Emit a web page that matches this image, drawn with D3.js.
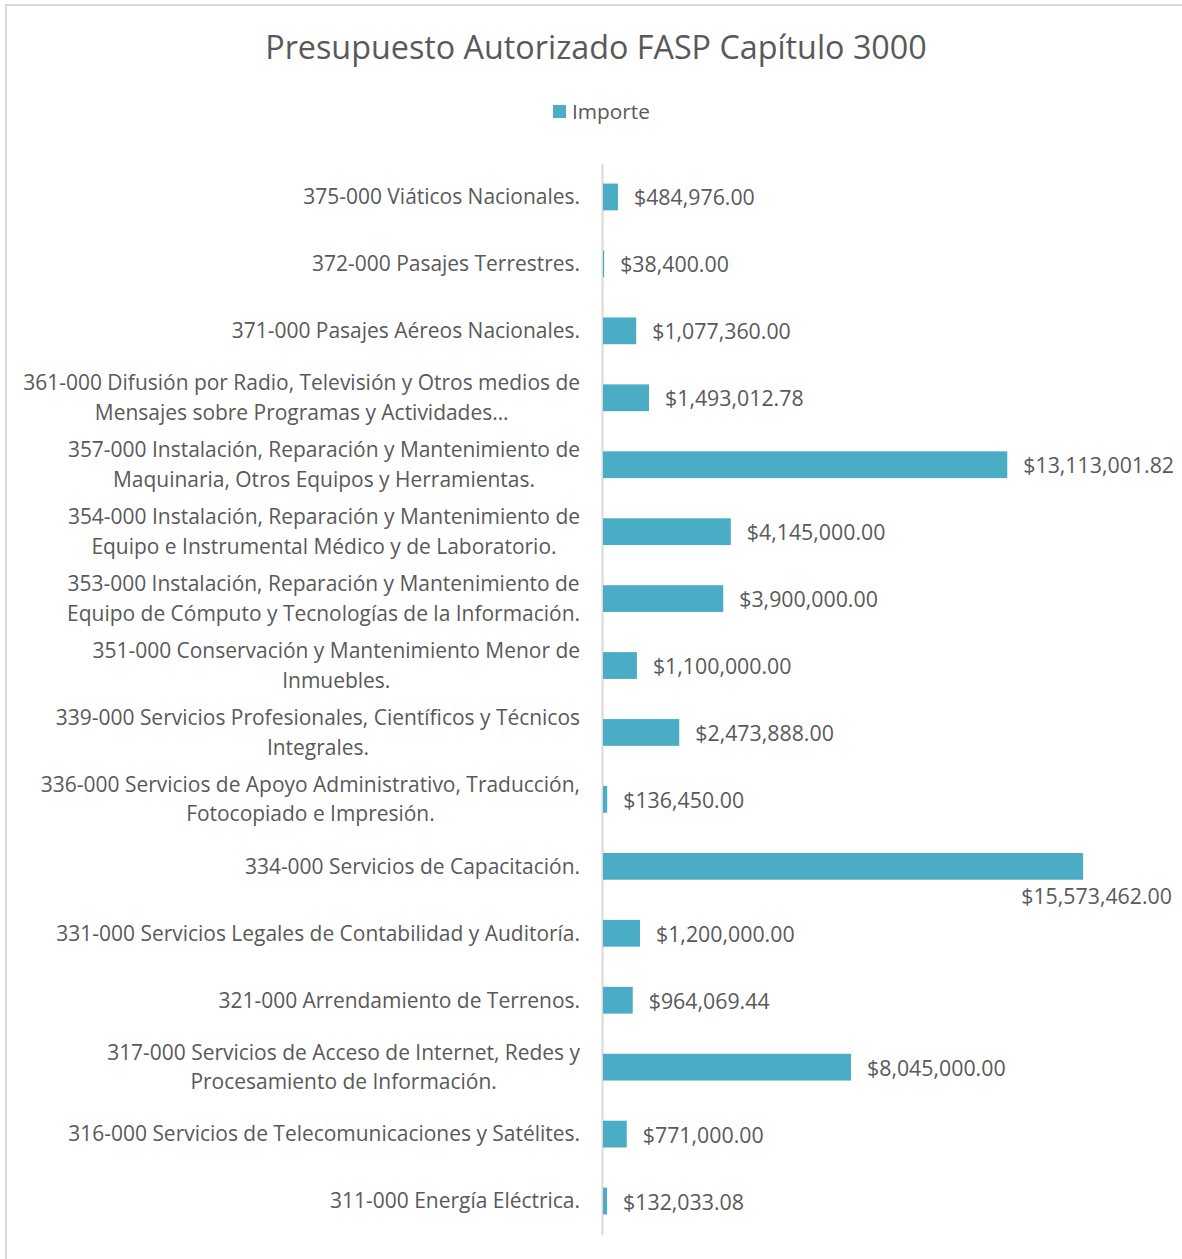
<!doctype html>
<html>
<head>
<meta charset="utf-8">
<title>Presupuesto Autorizado FASP Capítulo 3000</title>
<script src="https://cdn.jsdelivr.net/npm/d3@7"></script>
<style>
    html, body {
        margin: 0px;
        padding: 0px;
        background: #ffffff;
    }
    svg { display: block; }
</style>
</head>
<body>
<svg class="svg"></svg>
<script>
    var chartTitle = 'Presupuesto Autorizado FASP Capítulo 3000';
    var seriesName = 'Importe';

    // category labels, top to bottom, split into the lines shown in the chart
    var categories = [
        ['375-000 Viáticos Nacionales.'],
        ['372-000 Pasajes Terrestres.'],
        ['371-000 Pasajes Aéreos Nacionales.'],
        ['361-000 Difusión por Radio, Televisión y Otros medios de', 'Mensajes sobre Programas y Actividades…'],
        ['357-000 Instalación, Reparación y Mantenimiento de', 'Maquinaria, Otros Equipos y Herramientas.'],
        ['354-000 Instalación, Reparación y Mantenimiento de', 'Equipo e Instrumental Médico y de Laboratorio.'],
        ['353-000 Instalación, Reparación y Mantenimiento de', 'Equipo de Cómputo y Tecnologías de la Información.'],
        ['351-000 Conservación y Mantenimiento Menor de', 'Inmuebles.'],
        ['339-000 Servicios Profesionales, Científicos y Técnicos', 'Integrales.'],
        ['336-000 Servicios de Apoyo Administrativo, Traducción,', 'Fotocopiado e Impresión.'],
        ['334-000 Servicios de Capacitación.'],
        ['331-000 Servicios Legales de Contabilidad y Auditoría.'],
        ['321-000 Arrendamiento de Terrenos.'],
        ['317-000 Servicios de Acceso de Internet, Redes y', 'Procesamiento de Información.'],
        ['316-000 Servicios de Telecomunicaciones y Satélites.'],
        ['311-000 Energía Eléctrica.']
    ];

    var importe = [
        484976.00, 38400.00, 1077360.00, 1493012.78, 13113001.82, 4145000.00,
        3900000.00, 1100000.00, 2473888.00, 136450.00, 15573462.00, 1200000.00,
        964069.44, 8045000.00, 771000.00, 132033.08
    ];

    var xMax = 18000000;

    var width = 1182, height = 1259;
    var font = '"Open Sans", "DejaVu Sans", sans-serif';
    var textColor = '#595959', barColor = '#4BACC6', lineColor = '#d9d9d9';

    var svg = d3.select('svg').attr('width', width).attr('height', height);

    // pick a font size so that a sample string takes the given width
    function fitSize(sample, target) {
        var t = svg.append('text').attr('font-family', font).attr('font-size', 20).text(sample);
        var w = t.node().getComputedTextLength();
        t.remove();
        return 20 * target / w;
    }

    var titleSize = fitSize(chartTitle, 662);
    var labelSize = fitSize('361-000 Difusión por Radio, Televisión y Otros medios de', 557);
    var valueSize = fitSize('$484,976.00', 121);
    var legendSize = fitSize(seriesName, 78);

    // chart border
    svg.append('rect')
        .attr('x', 6).attr('y', 5)
        .attr('width', width + 20).attr('height', height + 20)
        .attr('fill', 'none')
        .attr('stroke', lineColor)
        .attr('stroke-width', 2);

    svg.append('text')
        .attr('x', 596).attr('y', 48)
        .attr('dy', '0.35em')
        .attr('text-anchor', 'middle')
        .attr('font-family', font)
        .attr('font-size', titleSize)
        .attr('fill', textColor)
        .text(chartTitle);

    var legend = svg.append('g');
    legend.append('rect')
        .attr('x', 553).attr('y', 105)
        .attr('width', 13).attr('height', 13)
        .attr('fill', barColor);
    legend.append('text')
        .attr('x', 572).attr('y', 112)
        .attr('dy', '0.35em')
        .attr('font-family', font)
        .attr('font-size', legendSize)
        .attr('fill', textColor)
        .text(seriesName);

    var keys = categories.map(function(c) { return c.join(' '); });

    var x = d3.scaleLinear().domain([0, xMax]).range([603, 603 + 18 * 30.83]);
    var y = d3.scaleBand().domain(keys).range([163.5, 1234.5])
        .paddingInner(0.6).paddingOuter(0.3);

    var fmt = d3.format('$,.2f');

    // category axis (drawn first so small bars stay visible)
    var yAxis = d3.axisLeft(y).tickSize(0).tickPadding(0);
    var axisG = svg.append('g')
        .attr('transform', 'translate(' + (x(0) - 1) + ',0)')
        .call(yAxis);
    axisG.select('.domain')
        .attr('stroke', lineColor)
        .attr('stroke-width', 2);

    var lineGap = 29.5;
    axisG.selectAll('.tick text').each(function(k) {
        var lines = categories[keys.indexOf(k)];
        var t = d3.select(this)
            .text(null)
            .attr('font-family', font)
            .attr('font-size', labelSize)
            .attr('fill', textColor)
            .attr('text-anchor', 'middle')
            .attr('dy', null);
        var spans = lines.map(function(line, j) {
            return t.append('tspan')
                .attr('y', (j - (lines.length - 1) / 2) * lineGap)
                .attr('dy', '0.35em')
                .text(line);
        });
        var maxW = d3.max(spans, function(s) { return s.node().getComputedTextLength(); });
        spans.forEach(function(s) { s.attr('x', -22 - maxW / 2); });
    });

    // bars
    svg.append('g').selectAll('rect')
        .data(importe)
        .enter().append('rect')
        .attr('x', x(0))
        .attr('y', function(d, i) { return y(keys[i]); })
        .attr('width', function(d) { return x(d) - x(0); })
        .attr('height', y.bandwidth())
        .attr('fill', barColor);

    // value labels
    var labelRight = 1180;
    svg.append('g').selectAll('text')
        .data(importe)
        .enter().append('text')
        .attr('font-family', font)
        .attr('font-size', valueSize)
        .attr('fill', textColor)
        .attr('dy', '0.35em')
        .text(function(d) { return fmt(d); })
        .each(function(d, i) {
            var t = d3.select(this);
            var w = this.getComputedTextLength();
            var cy = y(keys[i]) + y.bandwidth() / 2 + 1;
            if (x(d) + 16 + w > labelRight) {
                // no room on the right: put it under the end of the bar
                t.attr('x', 1172).attr('text-anchor', 'end')
                    .attr('y', y(keys[i]) + y.bandwidth() + 17);
            } else {
                t.attr('x', x(d) + 16).attr('y', cy);
            }
        });
</script>
</body>
</html>
